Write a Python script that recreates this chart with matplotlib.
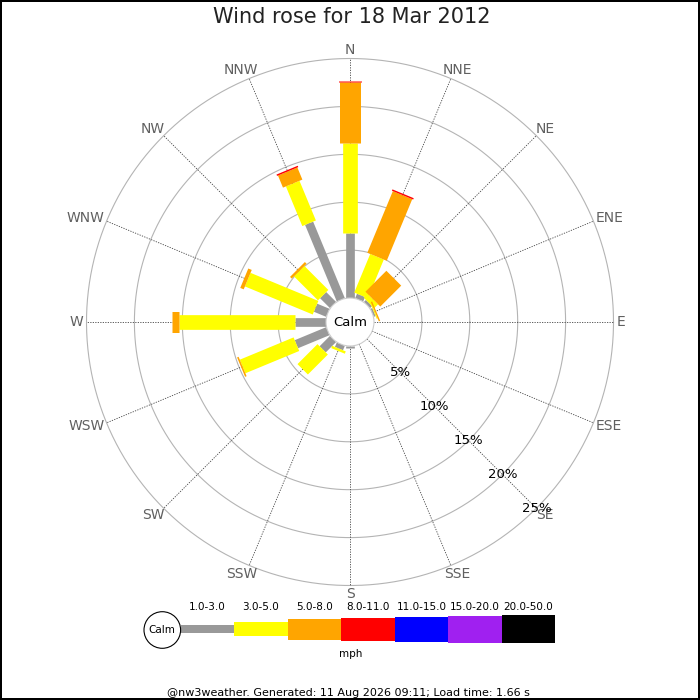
import numpy as np
import matplotlib
matplotlib.use("Agg")
import matplotlib.pyplot as plt
from matplotlib.patches import Circle

directions = ["N", "NNE", "NE", "ENE", "E", "ESE", "SE", "SSE",
              "S", "SSW", "SW", "WSW", "W", "WNW", "NW", "NNW"]
speed_bins = ["1.0-3.0", "3.0-5.0", "5.0-8.0", "8.0-11.0",
              "11.0-15.0", "15.0-20.0", "20.0-50.0"]

# % of the day per direction, one list per speed bin (mph)
pct_1_3 = [6.75, 0.5, 0.3, 0.2, 0, 0, 0, 0, 0.18, 0.5, 1.53, 3.55, 3.24, 1.39, 1.46, 8.65]
pct_3_5 = [9.45, 4.37, 0.57, 0.1, 0, 0, 0, 0, 0, 0.26, 2.95, 6.08, 12.1, 7.66, 3.54, 4.48]
pct_5_8 = [6.3, 6.96, 3.09, 0.15, 0, 0, 0, 0, 0, 0, 0, 0.17, 0.76, 0.39, 0.25, 1.37]
pct_8_11 = [0.1, 0.15, 0, 0, 0, 0, 0, 0, 0, 0, 0, 0, 0, 0, 0, 0.15]
pct_11_15 = [0] * 16
pct_15_20 = [0] * 16
pct_20_50 = [0] * 16

ring_pcts = [5, 10, 15, 20, 25]

title = "Wind rose for 18 Mar 2012"
footer = "@nw3weather. Generated: 11 Aug 2026 09:11; Load time: 1.66 s"

# styling
colours = ["#999999", "#ffff00", "#ffa500", "#ff0000", "#0000ff", "#a020f0", "#000000"]
bar_px = [8.7, 14.7, 21, 23, 25, 27, 28.7]
PX = 9.58          # pixels per 1 %
CALM = 24 / PX     # radius of the calm circle in % units
L = 30.0
LAB_R = 267 / PX

fig = plt.figure(figsize=(7, 7), dpi=100, facecolor="white",
                 edgecolor="black", linewidth=1.5)

# overlay axes in pixel coordinates for the legend
lg = fig.add_axes([0, 0, 1, 1])
lg.set_xlim(0, 700)
lg.set_ylim(700, 0)
lg.axis("off")

# rose axes, centre at (350, 322) px
half = L * PX
ax = fig.add_axes([(350 - half) / 700, (700 - 322 - half) / 700,
                   2 * half / 700, 2 * half / 700])
ax.set_xlim(-L, L)
ax.set_ylim(-L, L)
ax.set_aspect("equal")
ax.axis("off")

theta = np.deg2rad(np.arange(16) * 22.5)
sx, sy = np.sin(theta), np.cos(theta)

t = np.linspace(0, 2 * np.pi, 400)
for p in ring_pcts:
    r = CALM + p
    ax.plot(r * np.cos(t), r * np.sin(t), color="#b4b4b4", lw=0.8, zorder=1)
rmax = CALM + ring_pcts[-1]
dir_texts = []
for i in range(16):
    ax.plot([CALM * sx[i], rmax * sx[i]], [CALM * sy[i], rmax * sy[i]],
            color="#444444", lw=0.6, ls=(0, (1.5, 1.5)), zorder=1)
    dir_texts.append(ax.text(LAB_R * sx[i], LAB_R * sy[i], directions[i],
                             ha="center", va="center", fontsize=10, color="#606060"))

# push each label outwards by half its size along its direction
fig.canvas.draw()
rend = fig.canvas.get_renderer()
for i, tx in enumerate(dir_texts):
    w = tx.get_window_extent(rend).width
    tx.set_position(((LAB_R + 0) * sx[i] + sx[i] * w / 2 / PX,
                     LAB_R * sy[i] + sy[i] * 5.5 / PX))

stack = np.array([pct_1_3, pct_3_5, pct_5_8, pct_8_11, pct_11_15, pct_15_20, pct_20_50])
cum = np.vstack([np.zeros(16), np.cumsum(stack, axis=0)])
for b in range(len(speed_bins)):
    for i in range(16):
        r0, r1 = CALM + cum[b, i], CALM + cum[b + 1, i]
        if r1 > r0:
            ax.plot([r0 * sx[i], r1 * sx[i]], [r0 * sy[i], r1 * sy[i]],
                    color=colours[b], lw=bar_px[b] * 0.72,
                    solid_capstyle="butt", zorder=3 + b)

ax.add_patch(Circle((0, 0), CALM, fc="white", ec="#cccccc", lw=0.8, zorder=20))
ax.text(0, 0, "Calm", ha="center", va="center", fontsize=9.5, zorder=21)

a = np.deg2rad(135)
for p in ring_pcts:
    r = CALM + p
    ax.text(r * np.sin(a), r * np.cos(a), "%d%%" % p, ha="center", va="center",
            fontsize=9.5, color="black", zorder=22)

# legend
x0, step, yc = 180.7, 53.5, 629
lefts = x0 + step * np.arange(len(speed_bins))
hts = np.array(bar_px)
lg.bar(lefts, hts, width=step, bottom=yc - hts / 2, align="edge",
       color=colours, linewidth=0)
for xl, lab in zip(lefts, speed_bins):
    lg.text(xl + step / 2, 606.5, lab, ha="center", va="center", fontsize=7.5)
lg.add_patch(Circle((162.3, 630), 18.3, fc="white", ec="black", lw=0.8))
lg.text(162.3, 630, "Calm", ha="center", va="center", fontsize=7.5)
lg.text(351, 654, "mph", ha="center", va="center", fontsize=7.5)

fig.text(352 / 700, 1 - 17 / 700, title, ha="center", va="center",
         fontsize=15, color="#222222")
fig.text(348 / 700, 1 - 692.5 / 700, footer, ha="center", va="center",
         fontsize=8, color="black")

fig.savefig("out.png", dpi=100, facecolor="white", edgecolor="black")
